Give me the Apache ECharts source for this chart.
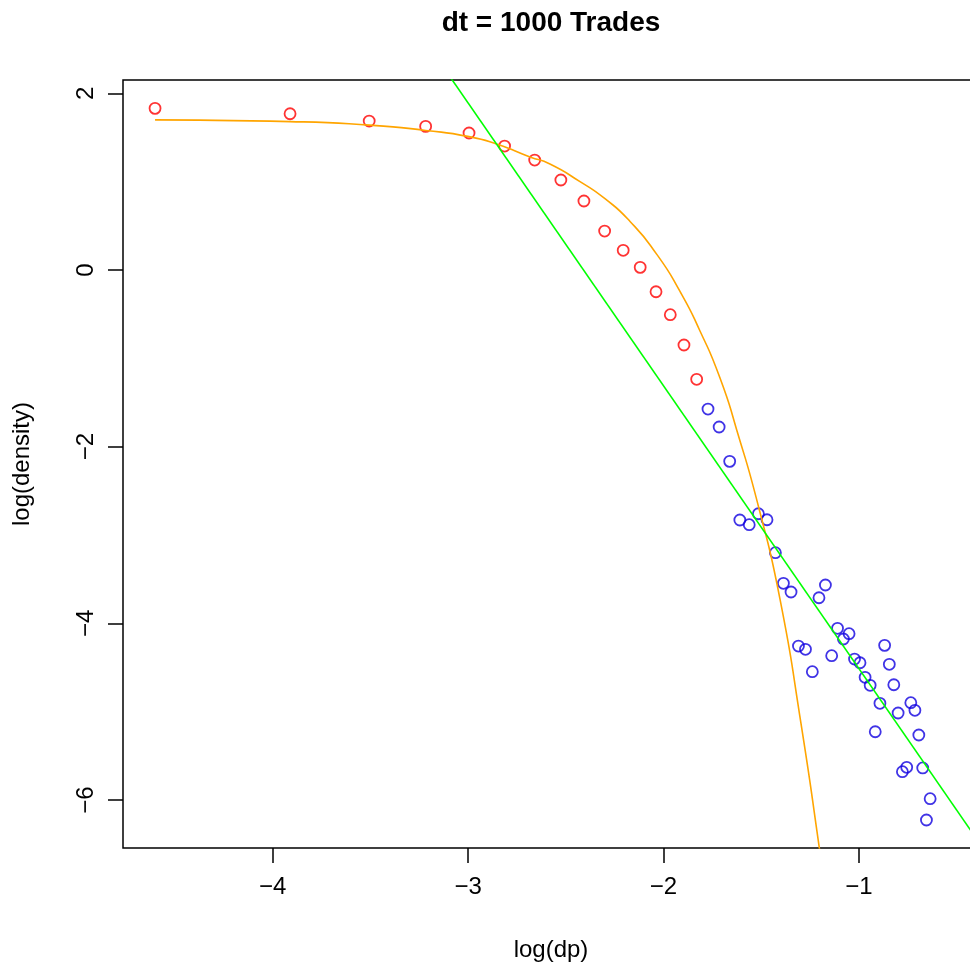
<!DOCTYPE html>
<html>
<head>
<meta charset="utf-8">
<title>dt = 1000 Trades</title>
<script src="https://cdn.jsdelivr.net/npm/echarts@6/dist/echarts.min.js"></script>
<style>
  html, body { margin: 0; padding: 0; background: #fff; }
  #chart { width: 970px; height: 969px; }
</style>
</head>
<body>
<div id="chart"></div>
<script>
// red points (small price changes)
const redX = [-4.602, -3.911, -3.506, -3.217, -2.995, -2.813, -2.659, -2.525, -2.407, -2.301, -2.206, -2.119, -2.038, -1.965, -1.895, -1.830];
const redY = [1.830, 1.769, 1.686, 1.626, 1.551, 1.403, 1.245, 1.019, 0.781, 0.441, 0.223, 0.030, -0.246, -0.506, -0.849, -1.237];

// blue points (tail)
const blueX = [-1.772, -1.715, -1.661, -1.609, -1.561, -1.514, -1.470, -1.427, -1.386, -1.347, -1.309, -1.273, -1.238, -1.204, -1.171, -1.139, -1.109, -1.079, -1.050, -1.022, -0.994, -0.968, -0.942, -0.916, -0.892, -0.868, -0.844, -0.821, -0.799, -0.777, -0.755, -0.734, -0.713, -0.693, -0.673, -0.654, -0.635];
const blueY = [-1.574, -1.777, -2.166, -2.830, -2.883, -2.759, -2.827, -3.200, -3.547, -3.645, -4.257, -4.294, -4.547, -3.710, -3.566, -4.366, -4.056, -4.177, -4.117, -4.404, -4.446, -4.611, -4.701, -5.227, -4.905, -4.249, -4.464, -4.695, -5.015, -5.679, -5.630, -4.898, -4.984, -5.264, -5.637, -6.226, -5.985];

// orange fitted curve
const orangeX = [-4.602, -3.911, -3.506, -3.217, -2.995, -2.847, -2.683, -2.581, -2.427, -2.301, -2.171, -2.035, -1.916, -1.813, -1.711, -1.625, -1.511, -1.404, -1.302, -1.203, -1.15];
const orangeY = [1.70, 1.68, 1.64, 1.58, 1.51, 1.42, 1.28, 1.20, 1.00, 0.81, 0.55, 0.18, -0.24, -0.69, -1.22, -1.81, -2.70, -3.72, -5.05, -6.53, -7.4];

// green straight line (power-law fit), end points
const greenX = [-3.15, -0.35];
const greenY = [2.372, -6.592];

const xTicks = [-4, -3, -2, -1];
const yTicks = [-6, -4, -2, 0, 2];

const pairs = (xs, ys) => xs.map((x, i) => [x, ys[i]]);
const minus = v => String(v).replace('-', '\u2212');

const font = 'Liberation Sans, Arial, Helvetica, sans-serif';
const chart = echarts.init(document.getElementById('chart'));

chart.setOption({
    animation: false,
    backgroundColor: '#fff',
    title: {
        text: 'dt = 1000 Trades',
        left: 546,
        top: 4,
        textAlign: 'center',
        textStyle: { fontFamily: font, fontSize: 28, fontWeight: 'bold', color: '#000' }
    },
    grid: {
        left: 123, top: 80, width: 856, height: 768,
        show: true, borderColor: '#000', borderWidth: 1.5,
        containLabel: false,
        outerBoundsMode: 'none'
    },
    xAxis: {
        type: 'value',
        min: -4.766, max: -0.385,
        name: 'log(dp)',
        nameLocation: 'middle',
        nameGap: 90,
        nameTextStyle: { fontFamily: font, fontSize: 24, color: '#000' },
        axisLine: { show: false, onZero: false },
        splitLine: { show: false },
        axisTick: { show: true, length: 15, customValues: xTicks, lineStyle: { color: '#000', width: 1.5 } },
        axisLabel: { customValues: xTicks, margin: 27, formatter: minus, fontFamily: font, fontSize: 24, color: '#000' }
    },
    yAxis: {
        type: 'value',
        min: -6.543, max: 2.151,
        name: 'log(density)',
        nameLocation: 'middle',
        nameGap: 89,
        nameTextStyle: { fontFamily: font, fontSize: 24, color: '#000' },
        axisLine: { show: false, onZero: false },
        splitLine: { show: false },
        axisTick: { show: true, length: 15, customValues: yTicks, lineStyle: { color: '#000', width: 1.5 } },
        axisLabel: { customValues: yTicks, margin: 25, rotate: 90, formatter: minus, fontFamily: font, fontSize: 24, color: '#000' }
    },
    series: [
        {
            type: 'scatter',
            data: pairs(redX, redY),
            symbol: 'circle',
            symbolSize: 11,
            itemStyle: { color: 'rgba(0,0,0,0)', borderColor: '#ff0000', borderWidth: 1.8 },
            silent: true
        },
        {
            type: 'scatter',
            data: pairs(blueX, blueY),
            symbol: 'circle',
            symbolSize: 11,
            itemStyle: { color: 'rgba(0,0,0,0)', borderColor: '#1000e0', borderWidth: 1.8 },
            silent: true
        },
        {
            type: 'line',
            data: pairs(orangeX, orangeY),
            smooth: 0.6,
            showSymbol: false,
            lineStyle: { color: '#ffa500', width: 1.6 },
            silent: true
        },
        {
            type: 'line',
            data: pairs(greenX, greenY),
            showSymbol: false,
            lineStyle: { color: '#00ff00', width: 1.6 },
            silent: true
        }
    ]
});
</script>
</body>
</html>
